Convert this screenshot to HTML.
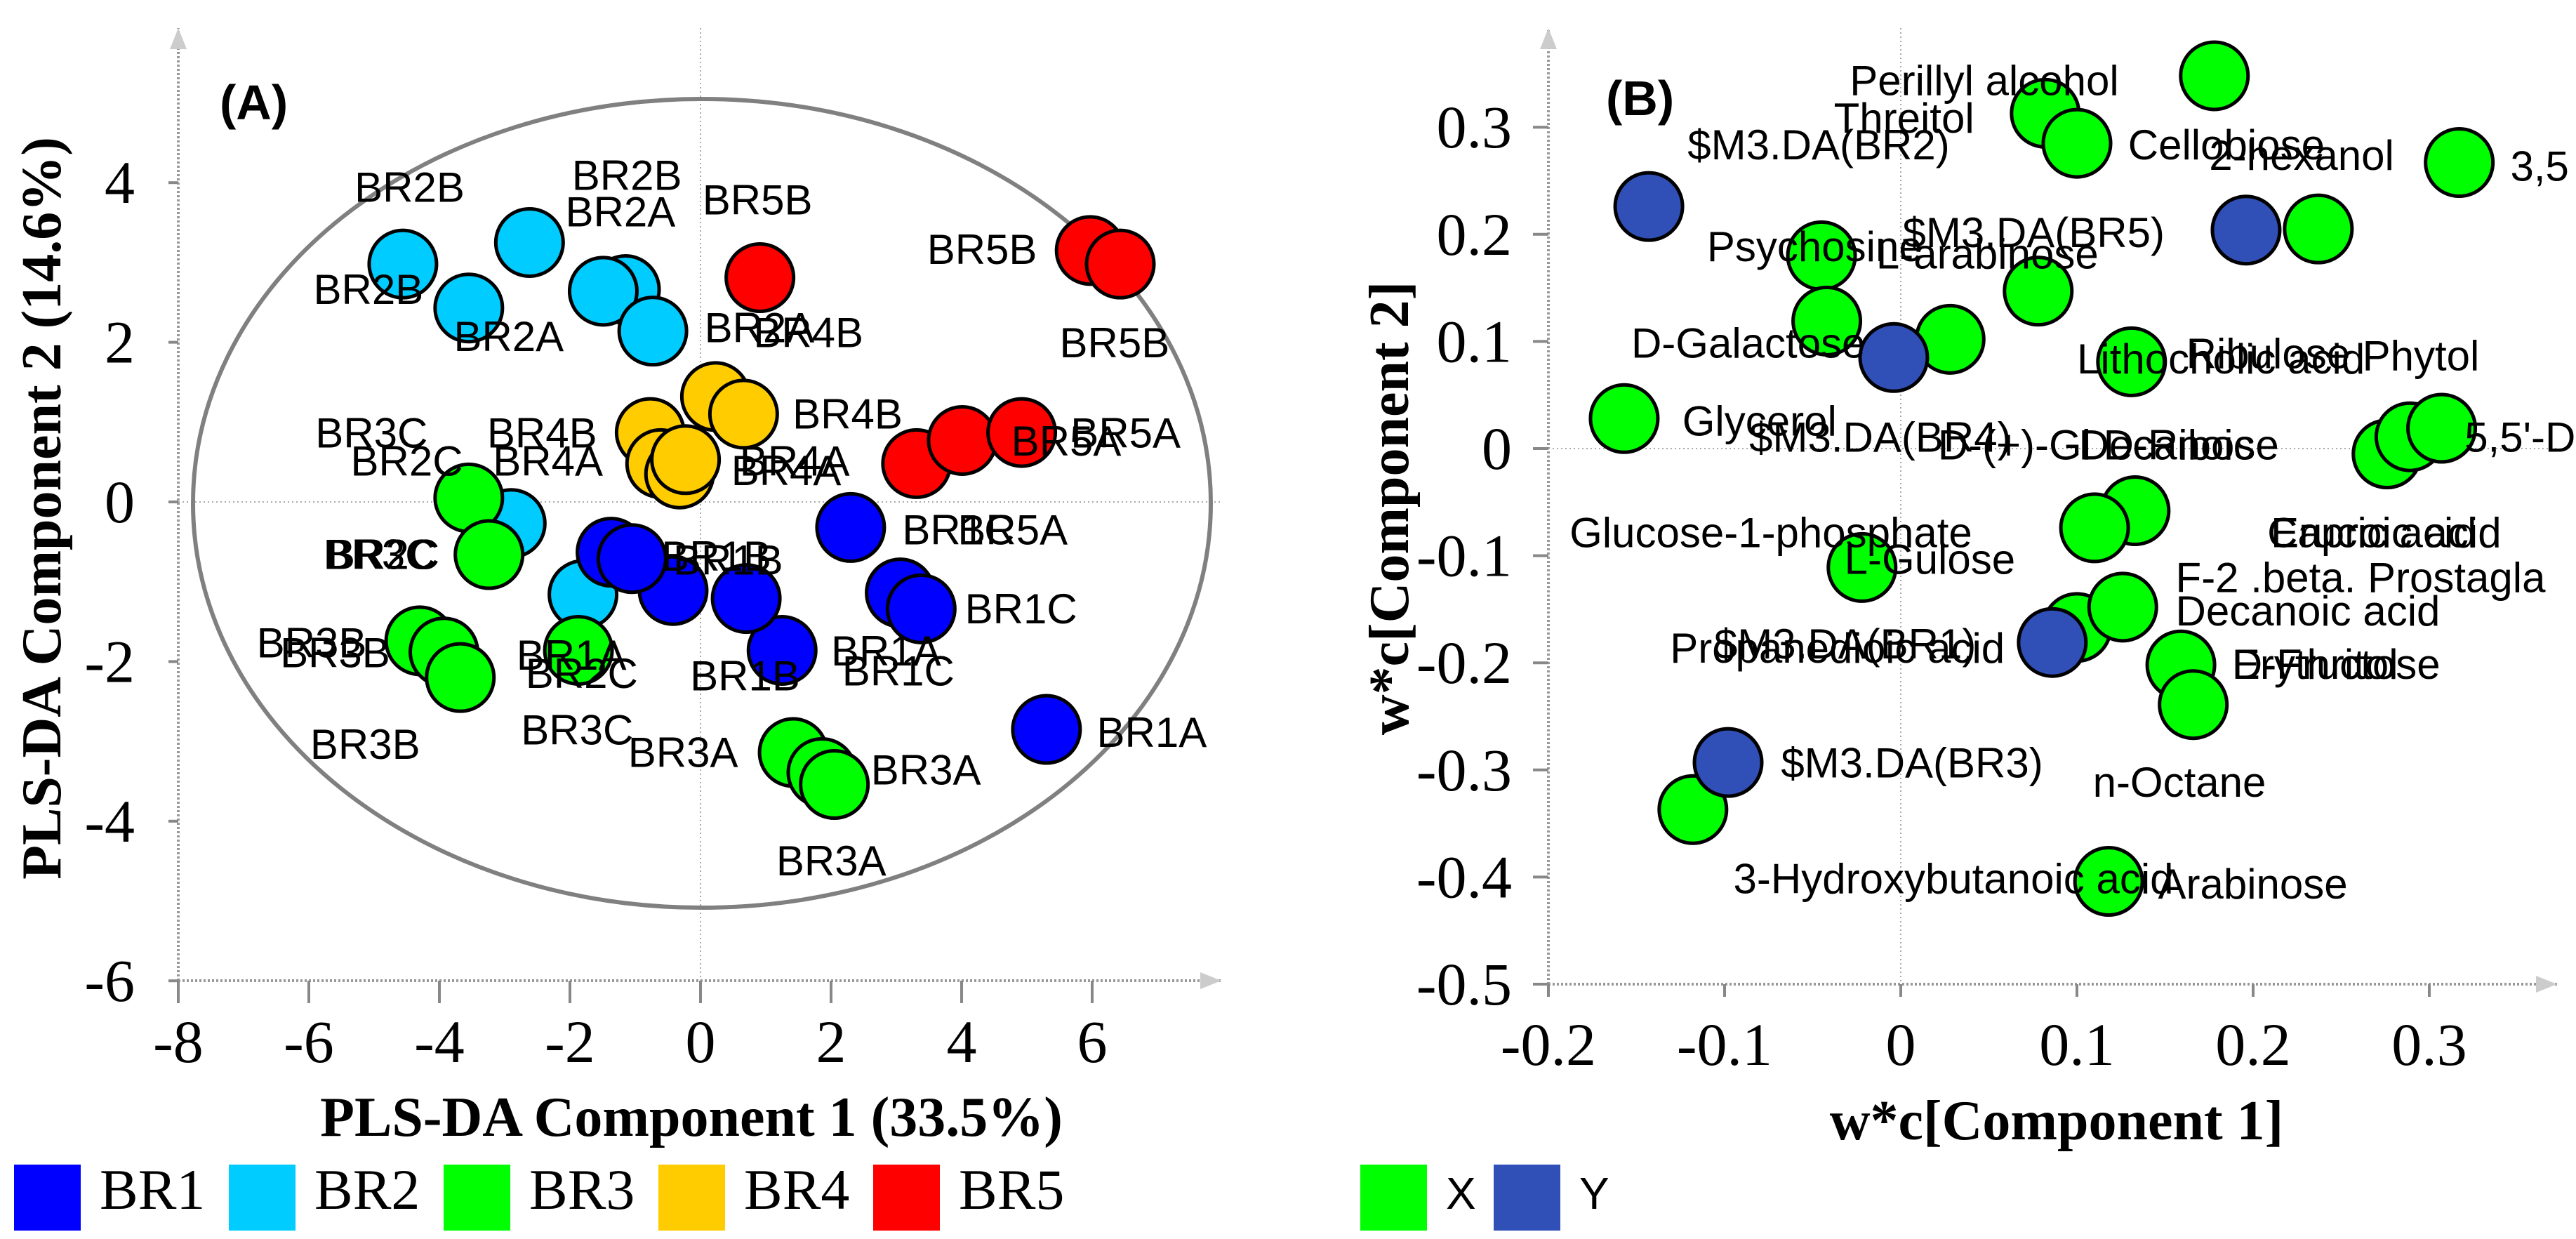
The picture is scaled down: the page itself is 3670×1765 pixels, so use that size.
<!DOCTYPE html>
<html><head><meta charset="utf-8"><style>
html,body{margin:0;padding:0;background:#fff;}
svg{display:block;}
.lbl{font-family:"Liberation Sans",sans-serif;font-size:60px;fill:#000;}
.lblb{font-family:"Liberation Sans",sans-serif;font-size:60px;fill:#000;}
.tick{font-family:"Liberation Serif",serif;font-size:86px;fill:#000;}
.ttl{font-family:"Liberation Serif",serif;font-size:80px;font-weight:bold;fill:#000;}
</style></head><body>
<svg id="chart" width="3670" height="1765" viewBox="0 0 3670 1765" xmlns="http://www.w3.org/2000/svg">
<g id="pa"></g>
<g id="pb"></g>
</svg>
<script>
// ---- Panel A data ----
const aGroups = ["BR1","BR2","BR3","BR4","BR5"];
const aColors = ["#0000ff","#00ccff","#00ff00","#ffcc00","#ff0000"];
const br1X = [2.3,3.06,3.38,5.3,1.25,0.7,-0.42,-1.37,-1.05];
const br1Y = [-0.32,-1.14,-1.34,-2.85,-1.86,-1.21,-1.11,-0.63,-0.71];
const br2X = [-4.56,-2.62,-3.55,-1.15,-1.49,-0.73,-2.9,-1.8];
const br2Y = [2.98,3.25,2.43,2.66,2.64,2.14,-0.27,-1.16];
const br3X = [-3.55,-3.24,-4.3,-3.93,-3.68,-1.87,1.42,1.86,2.05];
const br3Y = [0.05,-0.66,-1.74,-1.88,-2.2,-1.86,-3.14,-3.39,-3.54];
const br4X = [-0.77,0.23,0.66,-0.61,-0.32,-0.23];
const br4Y = [0.87,1.32,1.1,0.48,0.35,0.53];
const br5X = [0.91,5.97,6.43,3.31,4.01,4.92];
const br5Y = [2.81,3.15,2.98,0.48,0.77,0.87];
const aLabels = ["BR2B","BR2B","BR2A","BR5B","BR5B","BR2B","BR2A","BR2A","BR4B","BR5B","BR4B","BR3C","BR4B","BR5A","BR5A","BR2C","BR4A","BR4A","BR4A","BR1C","BR5A","BR2C","BR3C","BR1B","BR1B","BR1C","BR3B","BR3B","BR1A","BR2C","BR1A","BR1C","BR1B","BR3C","BR3A","BR1A","BR3B","BR3A","BR3A"];
const aLabelX = [-5.3,-1.97,-2.07,0.03,3.47,-5.93,-3.78,0.06,0.81,5.5,1.41,-5.9,-3.27,5.67,4.76,-5.36,-3.18,0.6,0.47,3.09,3.94,-5.72,-5.78,-0.6,-0.42,4.05,-6.8,-6.44,-2.82,-2.68,2.0,2.17,-0.16,-2.75,-1.11,6.07,-5.98,2.61,1.16];
const aLabelY = [3.76,3.91,3.45,3.6,2.98,2.48,1.89,2.0,1.94,1.81,0.92,0.68,0.68,0.68,0.58,0.33,0.33,0.33,0.21,-0.53,-0.53,-0.84,-0.84,-0.86,-0.91,-1.52,-1.95,-2.07,-2.1,-2.33,-2.05,-2.3,-2.36,-3.04,-3.32,-3.07,-3.22,-3.54,-4.68];
const aXTicks = [-8,-6,-4,-2,0,2,4,6];
const aYTicks = [4,2,0,-2,-4,-6];
// ---- Panel B data ----
const xVarX = [0.178,0.082,0.100,0.317,0.237,-0.045,0.078,-0.042,0.028,0.131,-0.157,0.276,0.289,0.307,0.133,0.110,-0.022,0.100,0.126,0.159,0.166,-0.118,0.118];
const xVarY = [0.348,0.313,0.285,0.267,0.205,0.18,0.147,0.119,0.102,0.081,0.028,-0.005,0.011,0.019,-0.058,-0.074,-0.111,-0.167,-0.148,-0.202,-0.239,-0.337,-0.404];
const yVarX = [-0.143,0.196,-0.004,0.086,-0.098];
const yVarY = [0.226,0.204,0.085,-0.181,-0.293];
const bLabels = ["Perillyl alcohol","Threitol","$M3.DA(BR2)","Cellobiose","2-hexanol","3,5","$M3.DA(BR5)","Psychosine","L-arabinose","D-Galactose","Lithocholic acid","Ribulose","Phytol","Glycerol","$M3.DA(BR4)","D-(+)-Gl","Decanoic","D-Ribose","5,5'-D","Caproic acid","Erucic acid","Glucose-1-phosphate","L-Gulose","F-2 .beta. Prostagla","Decanoic acid","Propanedioic acid","$M3.DA(BR1)","D-Fructose","Erythritol","$M3.DA(BR3)","n-Octane","3-Hydroxybutanoic acid","Arabinose"];
const bLabelX = [-0.029,-0.038,-0.121,0.129,0.175,0.346,0.001,-0.110,-0.014,-0.153,0.100,0.162,0.262,-0.124,-0.086,0.021,0.101,0.115,0.320,0.208,0.210,-0.188,-0.032,0.156,0.156,-0.131,-0.106,0.188,0.188,-0.068,0.109,-0.095,0.146];
const bLabelY = [0.33,0.295,0.27,0.27,0.26,0.25,0.188,0.175,0.168,0.085,0.07,0.075,0.073,0.012,-0.003,-0.01,-0.01,-0.01,-0.003,-0.092,-0.092,-0.092,-0.117,-0.134,-0.165,-0.2,-0.196,-0.215,-0.215,-0.307,-0.325,-0.415,-0.42];
const bXTicks = [-0.2,-0.1,0,0.1,0.2,0.3];
const bYTicks = [0.3,0.2,0.1,0,-0.1,-0.2,-0.3,-0.4,-0.5];

const NS="http://www.w3.org/2000/svg";
function mk(parent,tag,attrs,text){const e=document.createElementNS(NS,tag);for(const k in attrs)e.setAttribute(k,attrs[k]);if(text!==undefined)e.textContent=text;parent.appendChild(e);return e;}

// scales
const axA = v => 998 + v*93;
const ayA = v => 715 - v*113.7;
const axB = v => 2708 + v*2510;
const ayB = v => 639 - v*1526;

function axes(g,x0,yb,xZero,yZero,xEnd,yTop,prefix){
  const s={stroke:"#999","stroke-width":4,"stroke-dasharray":"3 3",fill:"none"};
  let e=mk(g,"line",Object.assign({x1:x0,y1:yb,x2:xEnd,y2:yb},s));
  
  e=mk(g,"line",Object.assign({x1:x0,y1:yb,x2:x0,y2:yTop},s));
  
  const z={stroke:"#aaa","stroke-width":2,"stroke-dasharray":"2 4"};
  e=mk(g,"line",Object.assign({x1:xZero,y1:yTop,x2:xZero,y2:yb},z));
  
  e=mk(g,"line",Object.assign({x1:x0,y1:yZero,x2:xEnd,y2:yZero},z));
  
  e=mk(g,"polygon",{points:`${x0-12},${yTop+30} ${x0+12},${yTop+30} ${x0},${yTop}`,fill:"#ccc"});
  
  e=mk(g,"polygon",{points:`${xEnd-30},${yb-12} ${xEnd-30},${yb+12} ${xEnd},${yb}`,fill:"#ccc"});
  
}
function circ(g,cx,cy,fill,name){
  const c=mk(g,"circle",{cx:cx,cy:cy,r:48,fill:fill,stroke:"#000","stroke-width":5});
  
  
}

// ---- Panel A ----
const pa=document.getElementById("pa");
axes(pa,254,1397,axA(0),ayA(0),1740,40,"a");
aXTicks.forEach(v=>{
  const x=axA(v);
  let t=mk(pa,"line",{x1:x,y1:1397,x2:x,y2:1429,stroke:"#888","stroke-width":4});
  
  t=mk(pa,"text",{x:x,y:1513,"text-anchor":"middle",class:"tick"},String(v));
  
});
aYTicks.forEach(v=>{
  const y=ayA(v);
  let t=mk(pa,"line",{x1:240,y1:y,x2:254,y2:y,stroke:"#888","stroke-width":4});
  
  t=mk(pa,"text",{x:192,y:y+29,"text-anchor":"end",class:"tick"},String(v));
  
});
let el=mk(pa,"ellipse",{cx:1000,cy:717,rx:725,ry:576,fill:"none",stroke:"#808080","stroke-width":6});

const aSeriesX=[br1X,br2X,br3X,br4X,br5X], aSeriesY=[br1Y,br2Y,br3Y,br4Y,br5Y];
[1,2,3,4,0].forEach(gi=>{
  aSeriesX[gi].forEach((xv,i)=>circ(pa,axA(xv),ayA(aSeriesY[gi][i]),aColors[gi],'point-'+aGroups[gi].toLowerCase()));
});
aLabels.forEach((s,i)=>{
  const t=mk(pa,"text",{x:axA(aLabelX[i]),y:ayA(aLabelY[i]),class:"lbl"},s);
  
});
el=mk(pa,"text",{x:313,y:170,"font-family":"Liberation Sans, sans-serif","font-size":"70","font-weight":"bold"},"(A)");

el=mk(pa,"text",{x:985,y:1618,"text-anchor":"middle",class:"ttl"},"PLS-DA Component 1 (33.5%)");

el=mk(pa,"text",{x:0,y:0,"text-anchor":"middle",class:"ttl",transform:"translate(86,724) rotate(-90)"},"PLS-DA Component 2 (14.6%)");

aGroups.forEach((g,i)=>{
  const x=20+i*306;
  let r=mk(pa,"rect",{x:x,y:1659,width:95,height:94,fill:aColors[i]});
  
  r=mk(pa,"text",{x:x+122,y:1722,"font-family":"Liberation Serif, serif","font-size":"82"},g);
  
});

// ---- Panel B ----
const pb=document.getElementById("pb");
axes(pb,axB(-0.2),1402,axB(0),ayB(0),3643,40,"b");
bXTicks.forEach(v=>{
  const x=axB(v);
  let t=mk(pb,"line",{x1:x,y1:1402,x2:x,y2:1420,stroke:"#888","stroke-width":4});
  
  t=mk(pb,"text",{x:x,y:1517,"text-anchor":"middle",class:"tick"},String(v));
  
});
bYTicks.forEach(v=>{
  const y=ayB(v);
  let t=mk(pb,"line",{x1:axB(-0.2)-22,y1:y,x2:axB(-0.2),y2:y,stroke:"#888","stroke-width":4});
  
  t=mk(pb,"text",{x:axB(-0.2)-52,y:y+29,"text-anchor":"end",class:"tick"},String(v));
  
});
xVarX.forEach((xv,i)=>circ(pb,axB(xv),ayB(xVarY[i]),"#00ff00","loading-x-variable"));
yVarX.forEach((xv,i)=>circ(pb,axB(xv),ayB(yVarY[i]),"#3050b8","loading-y-variable"));
bLabels.forEach((s,i)=>{
  const t=mk(pb,"text",{x:axB(bLabelX[i]),y:ayB(bLabelY[i]),class:"lblb"},s);
  
});
el=mk(pb,"text",{x:2288,y:164,"font-family":"Liberation Sans, sans-serif","font-size":"70","font-weight":"bold"},"(B)");

el=mk(pb,"text",{x:2930,y:1623,"text-anchor":"middle",class:"ttl"},"w*c[Component 1]");

el=mk(pb,"text",{x:0,y:0,"text-anchor":"middle",class:"ttl",transform:"translate(2006,724) rotate(-90)"},"w*c[Component 2]");

[["X","#00ff00",1938],["Y","#3050b8",2128]].forEach(d=>{
  let r=mk(pb,"rect",{x:d[2],y:1659,width:95,height:94,fill:d[1]});
  
  r=mk(pb,"text",{x:d[2]+122,y:1722,"font-family":"Liberation Sans, sans-serif","font-size":"64"},d[0]);
  
});
</script>
</body></html>
